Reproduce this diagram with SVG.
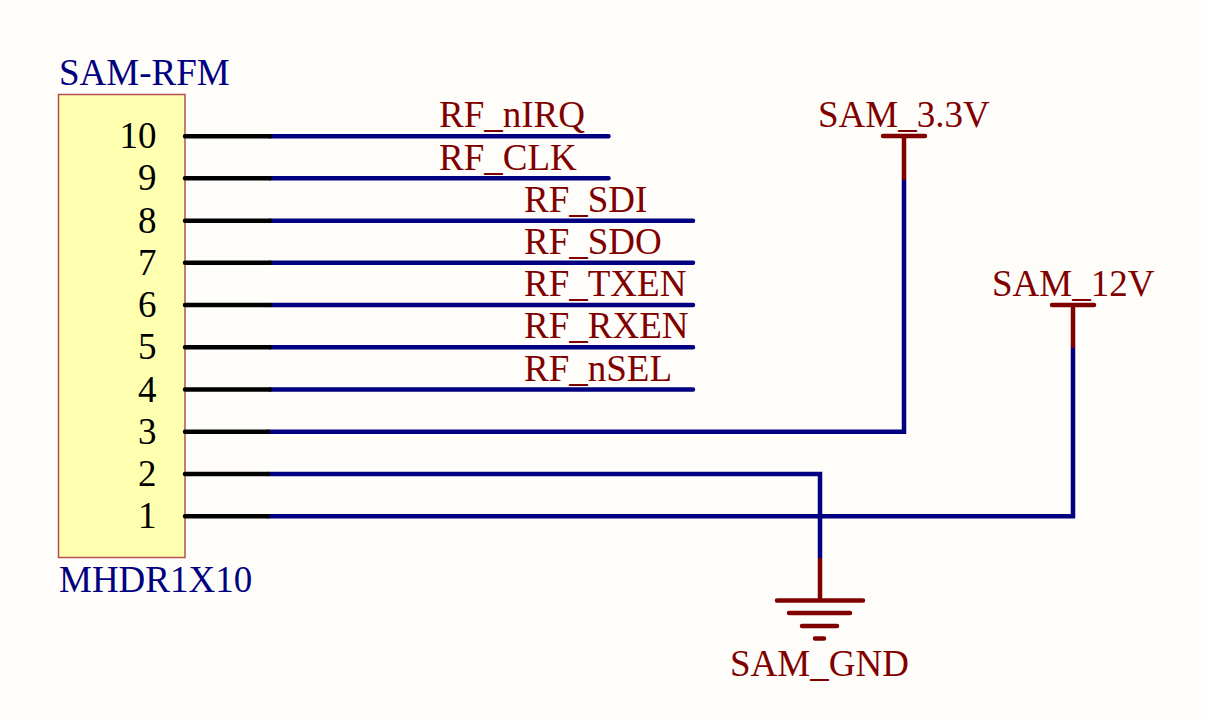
<svg xmlns="http://www.w3.org/2000/svg" width="1207" height="720" viewBox="0 0 1207 720">
<style>
text{font-family:"Liberation Serif","Times New Roman",serif;font-size:37px}
.nm{fill:#000080}
.net{fill:#800000}
.num{fill:#000;text-anchor:end}
.wire{fill:none;stroke:#000080;stroke-width:4.500;stroke-linecap:round;stroke-linejoin:miter}
.pin{fill:none;stroke:#000;stroke-width:4.500;stroke-linecap:round}
.pwr{fill:none;stroke:#800000;stroke-width:4.500;stroke-linecap:round}
</style>
<rect width="1207" height="720" fill="#fffdf9"/>
<g id="connector-SAM-RFM">
<rect x="58.500" y="94.500" width="126.500" height="463" fill="#ffffb0" stroke="#b05050" stroke-width="1.500"/>
<text class="nm" x="59" y="85">SAM-RFM</text>
<text class="nm" x="59" y="592">MHDR1X10</text>
</g>
<g id="connectors">
<path class="wire" d="M270 136.300H608.500M270 178.300H608.500M270 220.700H693M270 262.800H693M270 305H693M270 347.200H693M270 389.500H693"/>
<path class="wire" d="M268 431.700H904V178"/>
<path class="wire" d="M268 474H820V559"/>
<path class="wire" d="M268 516.300H1073V346"/>
</g>
<g id="pins">
<path class="pin" d="M185 136.300H270M185 178.300H270M185 220.700H270M185 262.800H270M185 305H270M185 347.200H270M185 389.500H270M185 431.700H268M185 474H268M185 516.300H268"/>
<g class="pinnums">
<text class="num" x="156.500" y="148">10</text>
<text class="num" x="156.500" y="190">9</text>
<text class="num" x="156.500" y="233">8</text>
<text class="num" x="156.500" y="275">7</text>
<text class="num" x="156.500" y="317">6</text>
<text class="num" x="156.500" y="359">5</text>
<text class="num" x="156.500" y="402">4</text>
<text class="num" x="156.500" y="444">3</text>
<text class="num" x="156.500" y="486">2</text>
<text class="num" x="156.500" y="528">1</text>
</g>
</g>
<g id="net-labels">
<text class="net" x="439" y="127">RF_nIRQ</text>
<text class="net" x="439" y="170">RF_CLK</text>
<text class="net" x="524" y="212">RF_SDI</text>
<text class="net" x="524" y="254">RF_SDO</text>
<text class="net" x="524" y="296">RF_TXEN</text>
<text class="net" x="524" y="338">RF_RXEN</text>
<text class="net" x="524" y="381">RF_nSEL</text>
</g>
<g id="power-3v3">
<path class="pwr" d="M883 136H925M904 136V178"/>
<text class="net" x="818" y="127">SAM_3.3V</text>
</g>
<g id="power-12v">
<path class="pwr" d="M1052 305H1094M1073 305V346"/>
<text class="net" x="992" y="296">SAM_12V</text>
</g>
<g id="power-gnd">
<path class="pwr" d="M820 560V600M777 600.500H863M789 613H850M802 626H837M815 638.500H824"/>
<text class="net" x="730" y="676">SAM_GND</text>
</g>
</svg>
